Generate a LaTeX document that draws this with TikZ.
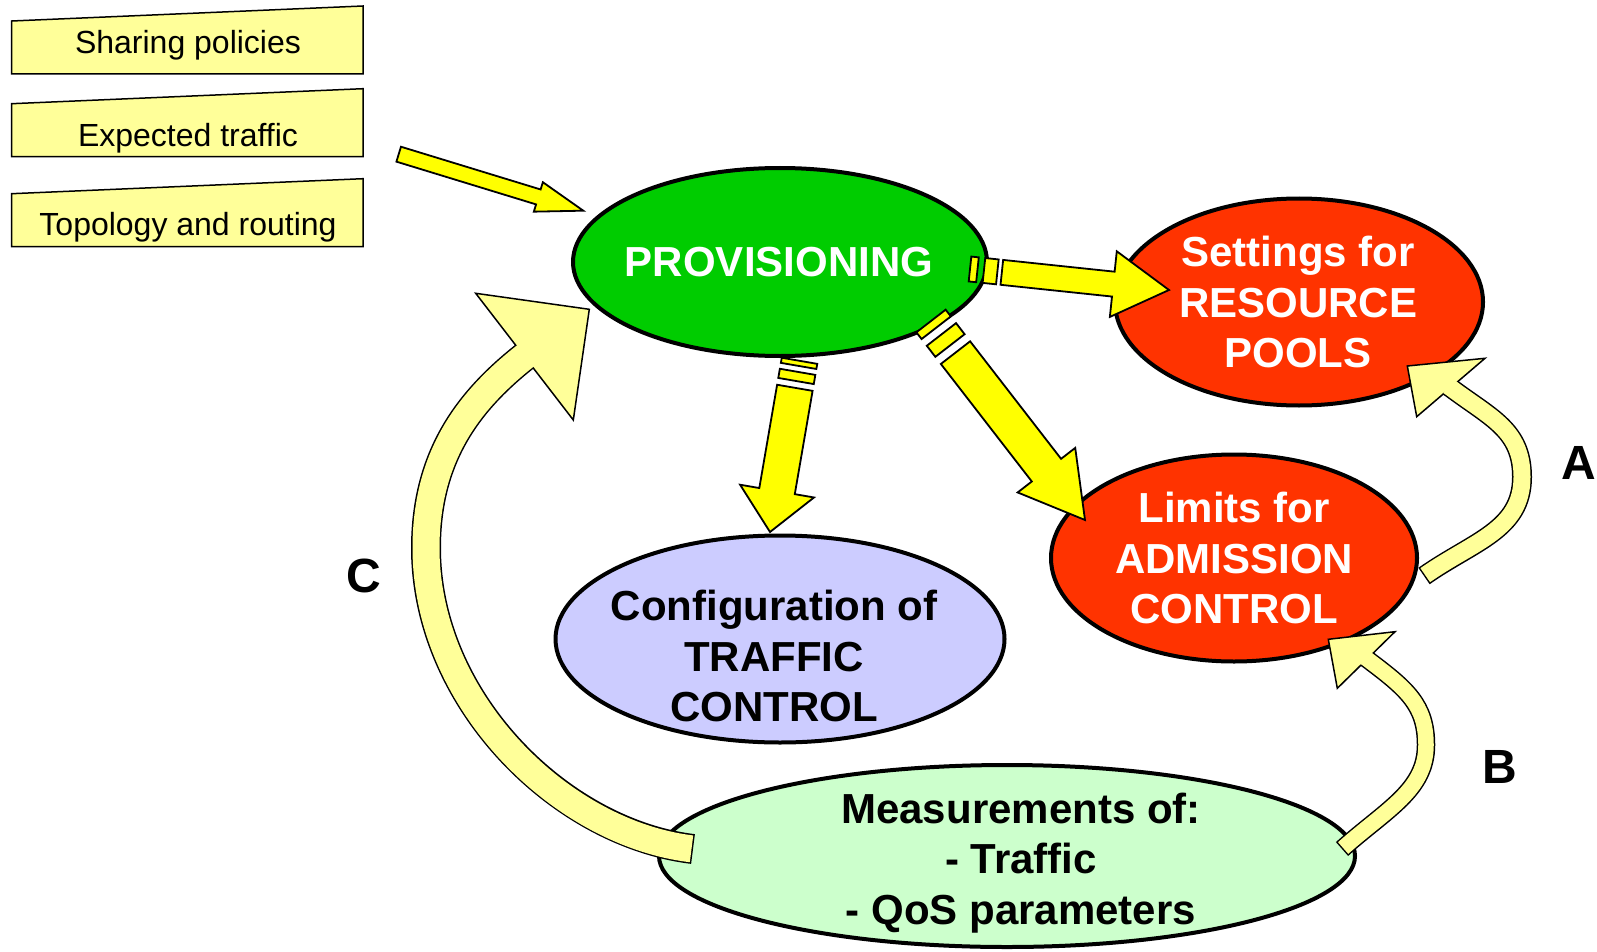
\documentclass[tikz,border=0pt]{standalone}
\usepackage{fontspec}
\setmainfont{Liberation Sans}
\usetikzlibrary{shapes.geometric,calc}

\definecolor{provgreen}{HTML}{00CC00}
\definecolor{limitred}{HTML}{FF3300}
\definecolor{tclilac}{HTML}{CCCCFF}
\definecolor{measgreen}{HTML}{CCFFCC}
\definecolor{strawyellow}{HTML}{FFFF00}
\definecolor{paleyellow}{HTML}{FFFF99}

% angle and length from #1 to #2, head length #3
\newcommand\arrowframe[3]{%
  \path let \p1=($(#2)-(#1)$) in \pgfextra{%
    \pgfmathparse{atan2(\y1,\x1)}\xdef\arrang{\pgfmathresult}%
    \pgfmathparse{veclen(\x1,\y1)}\xdef\arrlen{\pgfmathresult}%
    \pgfmathparse{\arrlen-#3}\xdef\arrbase{\pgfmathresult}};}
% block arrow: from, to, half shaft, half head, head length
\newcommand\blockarrow[5]{%
  \arrowframe{#1}{#2}{#5}
  \begin{scope}[shift={(#1)},rotate=\arrang]
    \draw[straw] (0pt,-#3pt) -- (\arrbase pt,-#3pt) -- (\arrbase pt,-#4pt) -- (\arrlen pt,0pt)
      -- (\arrbase pt,#4pt) -- (\arrbase pt,#3pt) -- (0pt,#3pt) -- cycle;
  \end{scope}}
% striped block arrow: as above, then stripe 1 end, stripe 2 start/end, body start
\newcommand\stripearrow[9]{%
  \arrowframe{#1}{#2}{#5}
  \begin{scope}[shift={(#1)},rotate=\arrang]
    \draw[straw] (0pt,-#3pt) -- (#6pt,-#3pt) -- (#6pt,#3pt) -- (0pt,#3pt) -- cycle;
    \draw[straw] (#7pt,-#3pt) -- (#8pt,-#3pt) -- (#8pt,#3pt) -- (#7pt,#3pt) -- cycle;
    \draw[straw] (#9pt,-#3pt) -- (\arrbase pt,-#3pt) -- (\arrbase pt,-#4pt) -- (\arrlen pt,0pt)
      -- (\arrbase pt,#4pt) -- (\arrbase pt,#3pt) -- (#9pt,#3pt) -- cycle;
  \end{scope}}

\begin{document}
\begin{tikzpicture}[x=1pt,y=-1pt,line join=miter,
  bubble/.style={ellipse,draw=black,line width=4pt,inner sep=0pt},
  bubtext/.style={inner sep=0pt,align=center,font=\fontsize{42}{50.5}\selectfont\bfseries},
  inbox/.style={fill=paleyellow,draw=black,line width=1.5pt},
  intext/.style={anchor=base,inner sep=0pt,font=\fontsize{32}{38}\selectfont},
  straw/.style={fill=strawyellow,draw=black,line width=1.8pt},
  loophead/.style={fill=paleyellow,draw=black,line width=1.5pt},
  letter/.style={inner sep=0pt,font=\fontsize{48}{56}\selectfont\bfseries}]
\useasboundingbox (0,0) rectangle (1597,952);

% inputs
\foreach \yb/\yl/\txt/\nm in {74/54/Sharing policies/share,156.7/146.7/Expected traffic/expect,246.7/235/Topology and routing/topo}{
  \draw[inbox] (11.7,\yb) -- (363,\yb) -- (363,\yb-68) -- (11.7,\yb-53) -- cycle;
  \node[intext] (\nm) at (188,\yl) {\txt};
}
\coordinate (inT) at (398.7,154.2);
\coordinate (inH) at (583.3,210.7);
\blockarrow{inT}{inH}{7.8}{15.4}{47}

% ellipses
\node[bubble,fill=provgreen,minimum width=414pt,minimum height=188pt] (prov) at (780,262) {};
\node[bubtext,text=white] (provtext) at (779,262) {PROVISIONING};
\node[bubble,fill=limitred,minimum width=368pt,minimum height=207pt] (pools) at (1299,302) {};
\node[bubtext,text=white] (poolstext) at (1298,302) {Settings for\\RESOURCE\\POOLS};
\node[bubble,fill=limitred,minimum width=366pt,minimum height=207pt] (limits) at (1234,558) {};
\node[bubtext,text=white] (limitstext) at (1234,558) {Limits for\\ADMISSION\\CONTROL};
\node[bubble,fill=tclilac,minimum width=449pt,minimum height=207pt] (tc) at (780,639) {};
\node[bubtext] (tctext) at (774,656) {Configuration of\\TRAFFIC\\CONTROL};
\node[bubble,fill=measgreen,minimum width=696pt,minimum height=182pt] (meas) at (1007,856) {};
\node[bubtext] (meastext) at (1021,863) {Measurements of:\\- Traffic\\- QoS parameters};

% provisioning outputs
\coordinate (provE) at (970,269);
\coordinate (poolsW) at (1169,290);
\stripearrow{provE}{poolsW}{12.5}{33}{56}{7.5}{14}{27.5}{32}
\coordinate (provSE) at (931,321);
\coordinate (limitsNW) at (1085,520);
\stripearrow{provSE}{limitsNW}{18.5}{36.4}{63}{8.5}{17}{31}{40}
\coordinate (provS) at (799.5,360.8);
\coordinate (tcN) at (770,532);
\stripearrow{provS}{tcN}{18}{37.5}{41.5}{5.2}{11.2}{20.5}{27.4}

% loop A
\coordinate (aT) at (1424,576);
\coordinate (aM) at (1522,477);
\coordinate (aE) at (1451,388);
\draw[line width=20pt] (aT) .. controls (1474,541) and (1522,530) .. (aM) .. controls (1522,430) and (1491,418) .. (aE) -- ++(-3,-2);
\draw[loophead] (1407.3,366) -- (1485,358.3) -- (1416.7,416.7) -- cycle;
\draw[line width=17pt,paleyellow,shorten <=1.5pt] (aT) .. controls (1474,541) and (1522,530) .. (aM) .. controls (1522,430) and (1491,418) .. (aE) -- ++(-3,-2);

% loop B
\coordinate (bT) at (1342,849);
\coordinate (bM) at (1426,745);
\coordinate (bE) at (1367,659);
\draw[line width=18.5pt] (bT) .. controls (1387,809) and (1426,790) .. (bM) .. controls (1426,705) and (1407,689) .. (bE) -- ++(-3,-2);
\draw[loophead] (1328.3,639.3) -- (1395,631.7) -- (1337.3,688.3) -- cycle;
\draw[line width=15.5pt,paleyellow,shorten <=1.5pt] (bT) .. controls (1387,809) and (1426,790) .. (bM) .. controls (1426,705) and (1407,689) .. (bE) -- ++(-3,-2);

% loop C
\coordinate (cT) at (693,849);
\coordinate (cL) at (426,548);
\coordinate (cE) at (524,357);
\draw[line width=30pt] (cT) .. controls (560,833) and (426,700) .. (cL) .. controls (426,455) and (470,400) .. (cE) -- ++(3,-2);
\draw[loophead] (589.3,309.3) -- (475.7,293.3) -- (573.3,420) -- cycle;
\draw[line width=27pt,paleyellow,shorten <=1.5pt] (cT) .. controls (560,833) and (426,700) .. (cL) .. controls (426,455) and (470,400) .. (cE) -- ++(3,-2);

\node[letter] (labA) at (1579,463) {A};
\node[letter] (labB) at (1500,767) {B};
\node[letter] (labC) at (364,576) {C};
\end{tikzpicture}
\end{document}
